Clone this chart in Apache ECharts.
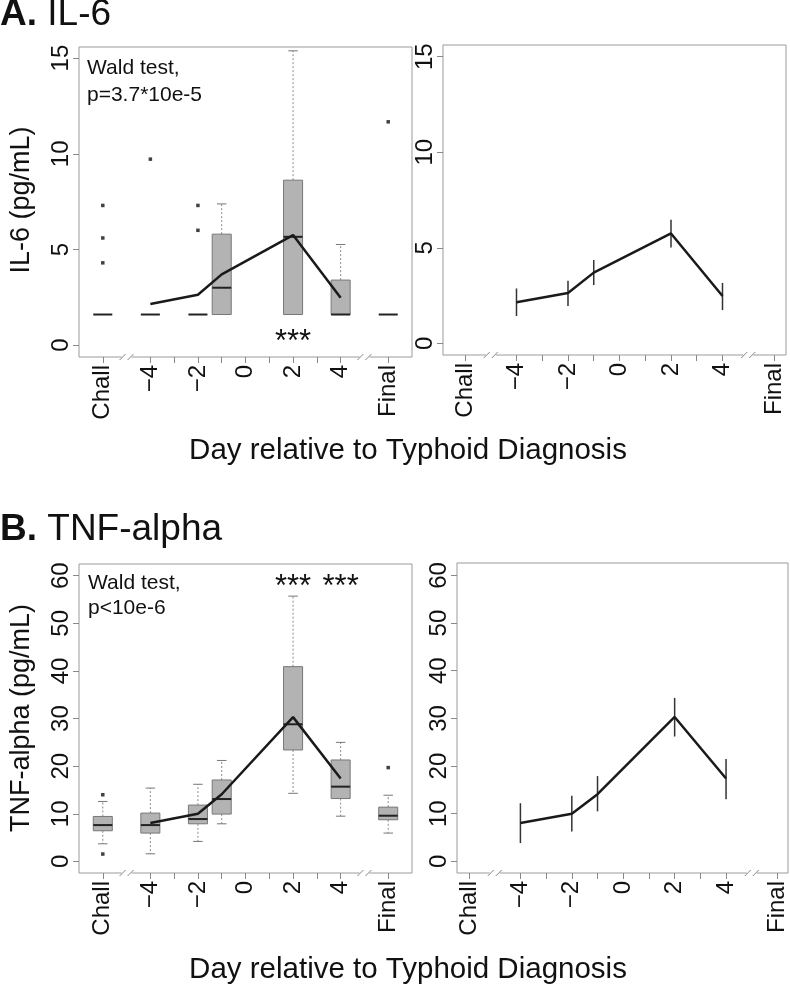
<!DOCTYPE html>
<html>
<head>
<meta charset="utf-8">
<script src="https://cdn.jsdelivr.net/npm/echarts@6/dist/echarts.min.js"></script>
<style>
html,body{margin:0;padding:0;background:#fff;}
#chart{width:790px;height:987px;}
</style>
</head>
<body>
<div id="chart"></div>
<script>
// ---------- data ----------
const xTickValues = [-6, -4, -3, -2, -1, 0, 1, 2, 3, 4, 6];
const xLabelValues = [-6, -4, -2, 0, 2, 4, 6];
const xLabelNames = ['Chall', '\u22124', '\u22122', '0', '2', '4', 'Final'];
const breakPositions = [-5, 5];

const il6YTicks = [0, 5, 10, 15];
const tnfYTicks = [0, 10, 20, 30, 40, 50, 60];

// boxplot positions (Chall = -6, Final = 6)
const boxDays = [-6, -4, -2, -1, 2, 4, 6];

const il6Min = [1.6, 1.6, 1.6, 1.6, 1.6, 1.6, 1.6];
const il6Q1  = [1.6, 1.6, 1.6, 1.6, 1.6, 1.6, 1.6];
const il6Med = [1.6, 1.6, 1.6, 3.0, 5.66, 1.6, 1.6];
const il6Q3  = [1.6, 1.6, 1.6, 5.8, 8.62, 3.4, 1.6];
const il6Max = [1.6, 1.6, 1.6, 7.38, 15.38, 5.26, 1.6];
const il6OutDay = [-6, -6, -6, -4, -2, -2, 6];
const il6OutVal = [7.3, 5.6, 4.3, 9.72, 7.3, 6.0, 11.67];

const tnfMin = [3.7, 1.6, 4.2, 7.9, 14.3, 9.5, 5.95];
const tnfQ1  = [6.44, 5.95, 7.9, 9.94, 23.4, 13.2, 8.75];
const tnfMed = [7.63, 7.63, 8.9, 13.1, 28.8, 15.7, 9.6];
const tnfQ3  = [9.44, 10.15, 11.83, 17.1, 40.9, 21.3, 11.4];
const tnfMax = [12.59, 15.4, 16.2, 21.2, 55.7, 25.0, 13.9];
const tnfOutDay = [-6, -6, 6];
const tnfOutVal = [14.0, 1.55, 19.7];

// model means with confidence bars
const meanDays = [-4, -2, -1, 2, 4];
const il6Mean = [2.15, 2.63, 3.70, 5.75, 2.48];
const il6Lo   = [1.43, 1.95, 3.05, 5.01, 1.74];
const il6Hi   = [2.87, 3.27, 4.36, 6.47, 3.16];
const tnfMean = [8.05, 10.0, 14.1, 30.3, 17.4];
const tnfLo   = [3.85, 6.28, 10.5, 26.2, 13.05];
const tnfHi   = [12.2, 13.75, 17.9, 34.3, 21.5];

// significance stars
const il6StarDays = [2];
const il6StarVals = [0.52];
const tnfStarDays = [2, 4];
const tnfStarVals = [59.1, 59.1];

// ---------- styling ----------
const FONT = "'Liberation Sans', Arial, Helvetica, sans-serif";
const TXT = '#111';
const FRAME = '#9a9a9a';

const grids = [
  {left: 79, top: 47, width: 333, height: 310},
  {left: 443, top: 45, width: 343, height: 310},
  {left: 79, top: 564, width: 333, height: 309},
  {left: 457, top: 563, width: 331, height: 310}
];
const xRanges = [[-7, 7], [-6.854, 6.466], [-7, 7], [-6.467, 6.41]];
const yRanges = [[-0.62, 15.58], [-0.61, 15.61], [-2.43, 62.45], [-2.43, 62.6]];
const yTicksFor = [il6YTicks, il6YTicks, tnfYTicks, tnfYTicks];

function xLabel(v) {
  const i = xLabelValues.indexOf(Math.round(v));
  return i >= 0 ? xLabelNames[i] : '';
}

const xAxes = grids.map((g, i) => ({
  type: 'value', gridIndex: i, min: xRanges[i][0], max: xRanges[i][1], position: 'bottom',
  axisLine: {show: false, onZero: false}, splitLine: {show: false},
  axisTick: {show: true, customValues: xTickValues, length: 6, lineStyle: {color: '#888', width: 1}},
  axisLabel: {show: true, customValues: xLabelValues, rotate: 90, margin: 8,
    fontSize: 24, color: TXT, fontFamily: FONT, formatter: xLabel}
}));
const yAxes = grids.map((g, i) => ({
  type: 'value', gridIndex: i, min: yRanges[i][0], max: yRanges[i][1], position: 'left',
  axisLine: {show: false, onZero: false}, splitLine: {show: false},
  axisTick: {show: true, customValues: yTicksFor[i], length: 6, lineStyle: {color: '#888', width: 1}},
  axisLabel: {show: true, customValues: yTicksFor[i], rotate: 90, margin: 6,
    fontSize: 24, color: TXT, fontFamily: FONT, formatter: v => String(Math.round(v))}
}));

function boxRender(params, api) {
  const x = api.value(0);
  const mn = api.value(1), q1 = api.value(2), md = api.value(3), q3 = api.value(4), mx = api.value(5);
  const w = api.size([0.8, 0])[0];
  const cx = api.coord([x, md])[0];
  const Y = v => api.coord([x, v])[1];
  const ch = [];
  if (mx > q3) {
    ch.push({type: 'line', shape: {x1: cx, y1: Y(q3), x2: cx, y2: Y(mx)},
      style: {stroke: '#8a8a8a', lineWidth: 1, lineDash: [2, 2]}});
    ch.push({type: 'line', shape: {x1: cx - w / 4, y1: Y(mx), x2: cx + w / 4, y2: Y(mx)},
      style: {stroke: '#777', lineWidth: 1}});
  }
  if (mn < q1) {
    ch.push({type: 'line', shape: {x1: cx, y1: Y(q1), x2: cx, y2: Y(mn)},
      style: {stroke: '#8a8a8a', lineWidth: 1, lineDash: [2, 2]}});
    ch.push({type: 'line', shape: {x1: cx - w / 4, y1: Y(mn), x2: cx + w / 4, y2: Y(mn)},
      style: {stroke: '#777', lineWidth: 1}});
  }
  if (q3 > q1) {
    ch.push({type: 'rect', shape: {x: cx - w / 2, y: Y(q3), width: w, height: Y(q1) - Y(q3)},
      style: {fill: '#b3b3b3', stroke: '#777', lineWidth: 1}});
  }
  ch.push({type: 'line', shape: {x1: cx - w / 2, y1: Y(md), x2: cx + w / 2, y2: Y(md)},
    style: {stroke: '#222', lineWidth: 2}});
  return {type: 'group', children: ch};
}

function errRender(params, api) {
  const x = api.value(0);
  const p1 = api.coord([x, api.value(1)]);
  const p2 = api.coord([x, api.value(2)]);
  return {type: 'line', shape: {x1: p1[0], y1: p1[1], x2: p2[0], y2: p2[1]},
    style: {stroke: '#333', lineWidth: 1.5}};
}

function breakRender(params, api) {
  const cs = params.coordSys;
  const bottom = cs.y + cs.height;
  const cx = api.coord([api.value(0), api.value(1)])[0];
  return {type: 'group', children: [
    {type: 'rect', shape: {x: cx - 5, y: bottom - 2, width: 10, height: 4}, style: {fill: '#fff'}},
    {type: 'line', shape: {x1: cx - 7, y1: bottom + 3, x2: cx - 1, y2: bottom - 3}, style: {stroke: '#888', lineWidth: 1}},
    {type: 'line', shape: {x1: cx + 1, y1: bottom + 3, x2: cx + 7, y2: bottom - 3}, style: {stroke: '#888', lineWidth: 1}}
  ]};
}

function starRender(params, api) {
  const p = api.coord([api.value(0), api.value(1)]);
  return {type: 'text', x: p[0], y: p[1] + 7,
    style: {text: '***', fontSize: 31, fontFamily: FONT, fill: TXT, align: 'center', verticalAlign: 'middle'}};
}

function boxData(mn, q1, md, q3, mx) {
  return boxDays.map((d, i) => [d, mn[i], q1[i], md[i], q3[i], mx[i]]);
}
function pairs(xs, ys) { return xs.map((d, i) => [d, ys[i]]); }
function triples(xs, a, b) { return xs.map((d, i) => [d, a[i], b[i]]); }

const series = [];
function addBreaks(gi) {
  series.push({type: 'custom', xAxisIndex: gi, yAxisIndex: gi, renderItem: breakRender,
    data: breakPositions.map(b => [b, 0]), clip: false, z: 5, silent: true});
}
// Panel A left
series.push({type: 'custom', xAxisIndex: 0, yAxisIndex: 0, renderItem: boxRender,
  data: boxData(il6Min, il6Q1, il6Med, il6Q3, il6Max), z: 2});
series.push({type: 'scatter', xAxisIndex: 0, yAxisIndex: 0, data: pairs(il6OutDay, il6OutVal),
  symbol: 'rect', symbolSize: 3.5, itemStyle: {color: '#111'}, z: 3});
series.push({type: 'line', xAxisIndex: 0, yAxisIndex: 0, data: pairs(meanDays, il6Mean),
  symbol: 'none', lineStyle: {color: '#1a1a1a', width: 2.5}, z: 4});
series.push({type: 'custom', xAxisIndex: 0, yAxisIndex: 0, renderItem: starRender,
  data: pairs(il6StarDays, il6StarVals), z: 4});
addBreaks(0);
// Panel A right
series.push({type: 'custom', xAxisIndex: 1, yAxisIndex: 1, renderItem: errRender,
  data: triples(meanDays, il6Lo, il6Hi), z: 3});
series.push({type: 'line', xAxisIndex: 1, yAxisIndex: 1, data: pairs(meanDays, il6Mean),
  symbol: 'none', lineStyle: {color: '#1a1a1a', width: 2.5}, z: 4});
addBreaks(1);
// Panel B left
series.push({type: 'custom', xAxisIndex: 2, yAxisIndex: 2, renderItem: boxRender,
  data: boxData(tnfMin, tnfQ1, tnfMed, tnfQ3, tnfMax), z: 2});
series.push({type: 'scatter', xAxisIndex: 2, yAxisIndex: 2, data: pairs(tnfOutDay, tnfOutVal),
  symbol: 'rect', symbolSize: 3.5, itemStyle: {color: '#111'}, z: 3});
series.push({type: 'line', xAxisIndex: 2, yAxisIndex: 2, data: pairs(meanDays, tnfMean),
  symbol: 'none', lineStyle: {color: '#1a1a1a', width: 2.5}, z: 4});
series.push({type: 'custom', xAxisIndex: 2, yAxisIndex: 2, renderItem: starRender,
  data: pairs(tnfStarDays, tnfStarVals), z: 4});
addBreaks(2);
// Panel B right
series.push({type: 'custom', xAxisIndex: 3, yAxisIndex: 3, renderItem: errRender,
  data: triples(meanDays, tnfLo, tnfHi), z: 3});
series.push({type: 'line', xAxisIndex: 3, yAxisIndex: 3, data: pairs(meanDays, tnfMean),
  symbol: 'none', lineStyle: {color: '#1a1a1a', width: 2.5}, z: 4});
addBreaks(3);

const titleStyle = (text, rich) => ({text, fontSize: 37, fontFamily: FONT, fill: TXT,
  align: 'left', verticalAlign: 'middle', rich});
const graphic = [
  {type: 'text', x: 0, y: 15, style: titleStyle('{b|A.} IL-6', {b: {fontWeight: 'bold', fontSize: 37, fontFamily: FONT, fill: TXT}})},
  {type: 'text', x: 0, y: 530, style: titleStyle('{b|B.} TNF-alpha', {b: {fontWeight: 'bold', fontSize: 37, fontFamily: FONT, fill: TXT}})},
  {type: 'text', x: 87, y: 55, style: {text: 'Wald test,\np=3.7*10e-5', fontSize: 21, lineHeight: 27,
    fontFamily: FONT, fill: TXT, align: 'left', verticalAlign: 'top'}},
  {type: 'text', x: 88, y: 571, style: {text: 'Wald test,\np<10e-6', fontSize: 21, lineHeight: 25,
    fontFamily: FONT, fill: TXT, align: 'left', verticalAlign: 'top'}},
  {type: 'text', x: 22, y: 200, rotation: Math.PI / 2, style: {text: 'IL-6 (pg/mL)', fontSize: 27,
    fontFamily: FONT, fill: TXT, align: 'center', verticalAlign: 'middle'}},
  {type: 'text', x: 22, y: 718, rotation: Math.PI / 2, style: {text: 'TNF-alpha (pg/mL)', fontSize: 27,
    fontFamily: FONT, fill: TXT, align: 'center', verticalAlign: 'middle'}},
  {type: 'text', x: 408, y: 451, style: {text: 'Day relative to Typhoid Diagnosis', fontSize: 29.5,
    fontFamily: FONT, fill: TXT, align: 'center', verticalAlign: 'middle'}},
  {type: 'text', x: 408, y: 970, style: {text: 'Day relative to Typhoid Diagnosis', fontSize: 29.5,
    fontFamily: FONT, fill: TXT, align: 'center', verticalAlign: 'middle'}}
];

const chart = echarts.init(document.getElementById('chart'), null, {renderer: 'canvas'});
chart.setOption({
  animation: false,
  backgroundColor: '#fff',
  textStyle: {fontFamily: FONT},
  grid: grids.map(g => Object.assign({show: true, borderColor: FRAME, borderWidth: 1,
    backgroundColor: 'transparent', containLabel: false, outerBoundsMode: 'none'}, g)),
  xAxis: xAxes,
  yAxis: yAxes,
  series,
  graphic
});
</script>
</body>
</html>
